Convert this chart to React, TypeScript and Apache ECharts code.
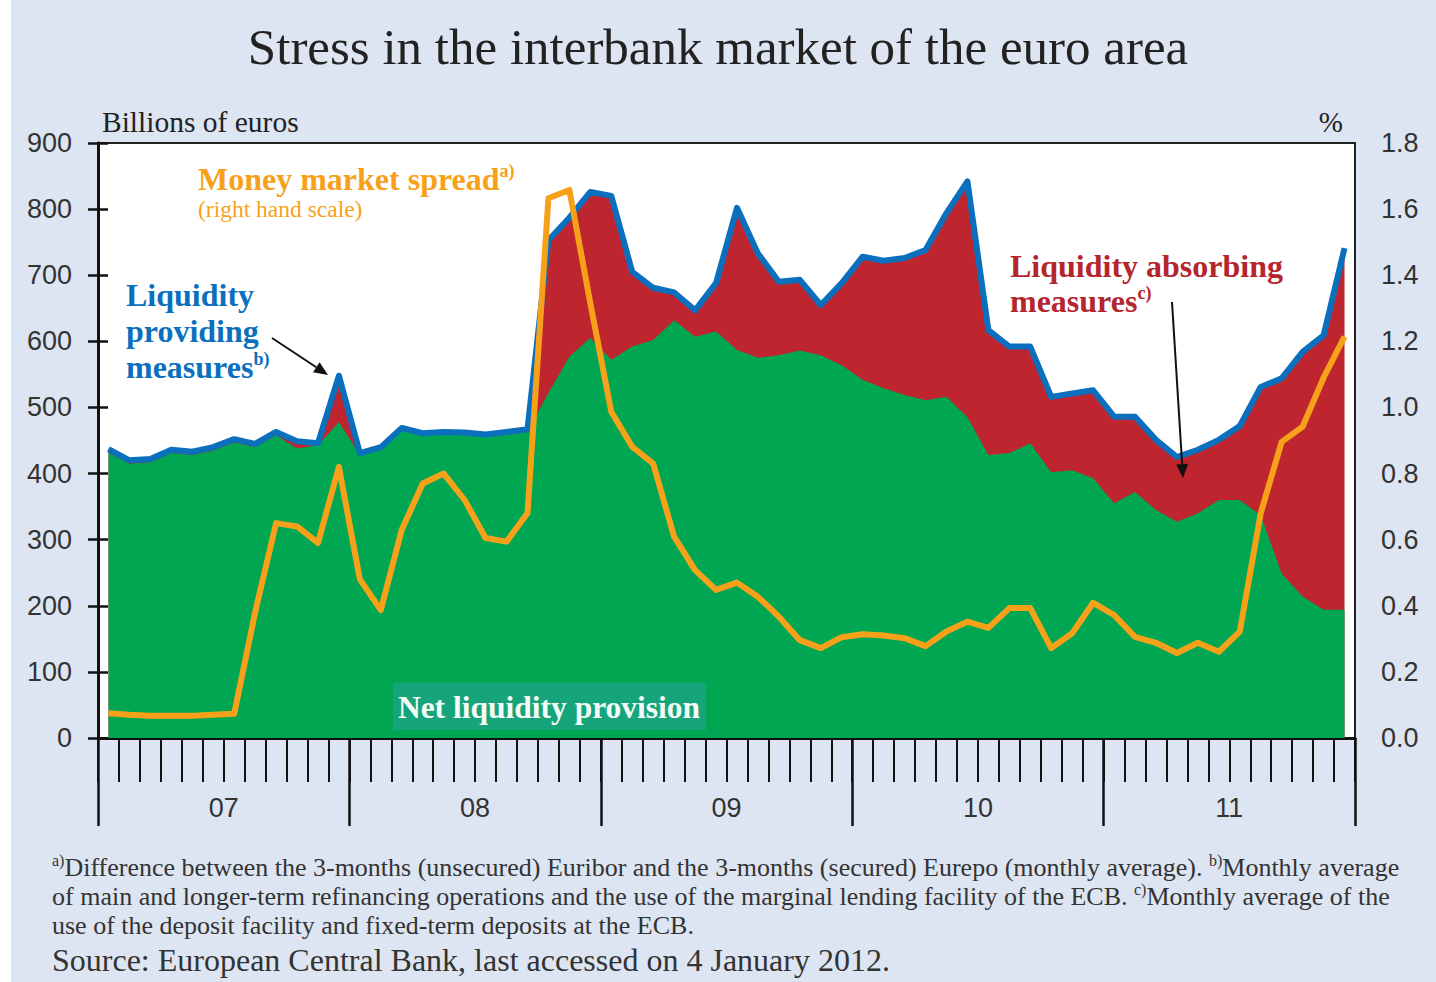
import React, { useEffect, useRef } from "react";
import * as echarts from "echarts";

// Months Jan 2007 .. Dec 2011 (60 monthly observations)
const years = ["07", "08", "09", "10", "11"];

// Liquidity providing measures (billions of euros) – blue line / top of red area
const providing = [
  437, 420, 422, 436, 433, 440, 452, 445, 463, 449, 446, 548,
  431, 440, 469, 461, 463, 462, 459, 463, 467, 753, 787, 826,
  820, 705, 681, 674, 647, 688, 802, 733, 690, 693, 655, 688,
  728, 722, 726, 738, 794, 842, 617, 592, 592, 516, 521, 526,
  486, 486, 451, 425, 436, 451, 472, 531, 544, 584, 609, 741,
];

// Net liquidity provision (billions of euros) – green area
const netProvision = [
  432, 415, 417, 431, 428, 435, 447, 440, 458, 438, 443, 478,
  428, 437, 466, 458, 460, 459, 456, 460, 464, 522, 577, 605,
  572, 592, 602, 632, 607, 615, 587, 575, 579, 586, 579, 564,
  542, 529, 519, 511, 516, 485, 428, 431, 446, 402, 405, 393,
  355, 372, 345, 327, 340, 360, 360, 337, 249, 214, 194, 194,
];

// Money market spread (%) – right hand scale
const spread = [
  0.075, 0.07, 0.067, 0.067, 0.067, 0.07, 0.073, 0.38, 0.65, 0.64, 0.59, 0.82,
  0.48, 0.387, 0.63, 0.77, 0.8, 0.72, 0.605, 0.594, 0.68, 1.633, 1.658, 1.315,
  0.987, 0.881, 0.83, 0.609, 0.508, 0.448, 0.47, 0.427, 0.367, 0.296, 0.272, 0.305,
  0.314, 0.31, 0.302, 0.278, 0.322, 0.352, 0.333, 0.393, 0.393, 0.272, 0.317, 0.409,
  0.372, 0.306, 0.288, 0.257, 0.288, 0.261, 0.322, 0.68, 0.896, 0.942, 1.09, 1.214,
];

const leftTicks = { min: 0, max: 900, interval: 100 };
const rightTicks = { min: 0, max: 1.8, interval: 0.2 };

const SERIF = '"Liberation Serif", "Times New Roman", serif';
const SANS = '"Liberation Sans", Arial, sans-serif';

const BG = "#dde5f2";
const GREEN = "#00a651";
const RED = "#bf252e";
const LABEL_RED = "#b5252d";
const BLUE = "#0a6fbd";
const ORANGE = "#f7a11a";
const TEAL = "#16a57a";

const toXY = (arr: number[]) => arr.map((v, i) => [i + 0.5, v]);

function arrow(x1: number, y1: number, x2: number, y2: number) {
  const dx = x2 - x1;
  const dy = y2 - y1;
  const len = Math.sqrt(dx * dx + dy * dy);
  const ux = dx / len;
  const uy = dy / len;
  const hl = 14;
  const hw = 6;
  const bx = x2 - ux * hl;
  const by = y2 - uy * hl;
  const nx = -uy;
  const ny = ux;
  return [
    {
      type: "line",
      shape: { x1, y1, x2: bx, y2: by },
      style: { stroke: "#111", lineWidth: 2 },
      z: 100,
    },
    {
      type: "polygon",
      shape: {
        points: [
          [x2, y2],
          [bx + nx * hw, by + ny * hw],
          [bx - nx * hw, by - ny * hw],
        ],
      },
      style: { fill: "#111" },
      z: 100,
    },
  ];
}

function supLabel(x: number, y: number, main: string, sup: string, color: string, size: number, supSize: number) {
  return {
    type: "text",
    x,
    y,
    z: 100,
    style: {
      text: `{m|${main}}{s|${sup}}`,
      rich: {
        m: { fontFamily: SERIF, fontSize: size, fontWeight: "bold", fill: color, lineHeight: size + 2 },
        s: { fontFamily: SERIF, fontSize: supSize, fontWeight: "bold", fill: color, verticalAlign: "top", lineHeight: size + 2 },
      },
    },
  };
}

function footLine(x: number, y: number, text: string) {
  return {
    type: "text",
    x,
    y,
    style: {
      text,
      rich: {
        t: { fontFamily: SERIF, fontSize: 26, fill: "#333", lineHeight: 30 },
        s: { fontFamily: SERIF, fontSize: 16, fill: "#333", verticalAlign: "top", lineHeight: 30 },
      },
    },
  };
}

export default function App() {
  const ref = useRef<HTMLDivElement>(null);

  useEffect(() => {
    if (!ref.current) return;
    const chart = echarts.init(ref.current, undefined, { renderer: "svg" });

    const axisLabelStyle = { fontFamily: SANS, fontSize: 27, color: "#333" };

    const option: any = {
      animation: false,
      backgroundColor: BG,
      grid: {
        left: 98,
        right: 81,
        top: 143,
        bottom: 244,
        show: true,
        backgroundColor: "#ffffff",
        borderColor: "#222",
        borderWidth: 2,
        containLabel: false,
      },
      xAxis: [
        {
          type: "value",
          min: 0,
          max: 60,
          interval: 1,
          position: "bottom",
          axisLine: { show: true, onZero: false, lineStyle: { color: "#111", width: 3 } },
          axisTick: { show: true, length: 44, lineStyle: { color: "#111", width: 2 } },
          axisLabel: { show: false },
          splitLine: { show: false },
        },
        {
          type: "value",
          min: 0,
          max: 60,
          interval: 12,
          position: "bottom",
          axisLine: { show: false },
          axisTick: { show: true, length: 88, lineStyle: { color: "#111", width: 2.5 } },
          axisLabel: { show: false },
          splitLine: { show: false },
        },
        {
          type: "category",
          data: years,
          boundaryGap: true,
          position: "bottom",
          axisLine: { show: false },
          axisTick: { show: false },
          axisLabel: { ...axisLabelStyle, margin: 56 },
          splitLine: { show: false },
        },
      ],
      yAxis: [
        {
          type: "value",
          ...leftTicks,
          position: "left",
          axisLine: { show: true, lineStyle: { color: "#111", width: 3 } },
          axisTick: { show: true, inside: true, length: 10, lineStyle: { color: "#111", width: 2.5 } },
          axisLabel: { ...axisLabelStyle, margin: 26 },
          splitLine: { show: false },
        },
        {
          type: "value",
          ...rightTicks,
          position: "right",
          axisLine: { show: true, lineStyle: { color: "#111", width: 3 } },
          axisTick: { show: true, inside: true, length: 10, lineStyle: { color: "#111", width: 2.5 } },
          axisLabel: {
            ...axisLabelStyle,
            margin: 26,
            formatter: (v: number) => v.toFixed(1),
          },
          splitLine: { show: false },
        },
      ],
      series: [
        {
          name: "Liquidity absorbing measures",
          type: "line",
          xAxisIndex: 0,
          yAxisIndex: 0,
          data: toXY(providing),
          symbol: "none",
          lineStyle: { width: 0 },
          areaStyle: { color: RED, opacity: 1 },
          z: 2,
        },
        {
          name: "Net liquidity provision",
          type: "line",
          xAxisIndex: 0,
          yAxisIndex: 0,
          data: toXY(netProvision),
          symbol: "none",
          lineStyle: { width: 0 },
          areaStyle: { color: GREEN, opacity: 1 },
          z: 3,
        },
        {
          name: "Liquidity providing measures",
          type: "line",
          xAxisIndex: 0,
          yAxisIndex: 0,
          data: toXY(providing),
          symbol: "none",
          lineStyle: { width: 6, color: BLUE, join: "round" },
          z: 4,
        },
        {
          name: "Money market spread",
          type: "line",
          xAxisIndex: 0,
          yAxisIndex: 1,
          data: toXY(spread),
          symbol: "none",
          lineStyle: { width: 6, color: ORANGE, join: "round" },
          z: 5,
        },
      ],
      graphic: [
        {
          type: "rect",
          shape: { x: 0, y: 0, width: 11, height: 982 },
          style: { fill: "#ffffff" },
          z: -1,
        },
        {
          type: "text",
          x: 718,
          y: 47,
          style: {
            text: "Stress in the interbank market of the euro area",
            font: `51px ${SERIF}`,
            fill: "#222",
            textAlign: "center",
            textVerticalAlign: "middle",
          },
        },
        {
          type: "text",
          x: 102,
          y: 122,
          style: {
            text: "Billions of euros",
            font: `29.5px ${SERIF}`,
            fill: "#222",
            textVerticalAlign: "middle",
          },
        },
        {
          type: "text",
          x: 1343,
          y: 122,
          style: {
            text: "%",
            font: `29px ${SERIF}`,
            fill: "#222",
            textAlign: "right",
            textVerticalAlign: "middle",
          },
        },
        // Money market spread label
        supLabel(198, 162, "Money market spread", "a)", ORANGE, 32, 18),
        {
          type: "text",
          x: 198,
          y: 209,
          z: 100,
          style: {
            text: "(right hand scale)",
            font: `23.5px ${SERIF}`,
            fill: ORANGE,
            textVerticalAlign: "middle",
          },
        },
        // Liquidity providing measures label
        {
          type: "text",
          x: 126,
          y: 295,
          z: 100,
          style: { text: "Liquidity", font: `bold 32px ${SERIF}`, fill: BLUE, textVerticalAlign: "middle" },
        },
        {
          type: "text",
          x: 126,
          y: 331,
          z: 100,
          style: { text: "providing", font: `bold 32px ${SERIF}`, fill: BLUE, textVerticalAlign: "middle" },
        },
        supLabel(126, 350, "measures", "b)", BLUE, 32, 18),
        ...arrow(272, 338, 328, 375),
        // Liquidity absorbing measures label
        {
          type: "text",
          x: 1010,
          y: 266,
          z: 100,
          style: { text: "Liquidity absorbing", font: `bold 32px ${SERIF}`, fill: LABEL_RED, textVerticalAlign: "middle" },
        },
        supLabel(1010, 284, "measures", "c)", LABEL_RED, 32, 18),
        ...arrow(1172, 302, 1183, 478),
        // Net liquidity provision label
        {
          type: "rect",
          shape: { x: 393, y: 683, width: 313, height: 47 },
          style: { fill: TEAL },
          z: 100,
        },
        {
          type: "text",
          x: 549,
          y: 707,
          z: 101,
          style: {
            text: "Net liquidity provision",
            font: `bold 31.5px ${SERIF}`,
            fill: "#f4fbf6",
            textAlign: "center",
            textVerticalAlign: "middle",
          },
        },
        // Footnotes
        footLine(
          52,
          852,
          "{s|a)}{t|Difference between the 3-months (unsecured) Euribor and the 3-months (secured) Eurepo (monthly average). }{s|b)}{t|Monthly average}"
        ),
        footLine(
          52,
          881,
          "{t|of main and longer-term refinancing operations and the use of the marginal lending facility of the ECB. }{s|c)}{t|Monthly average of the}"
        ),
        footLine(52, 910, "{t|use of the deposit facility and fixed-term deposits at the ECB.}"),
        {
          type: "text",
          x: 52,
          y: 960,
          style: {
            text: "Source: European Central Bank, last accessed on 4 January 2012.",
            font: `32px ${SERIF}`,
            fill: "#333",
            textVerticalAlign: "middle",
          },
        },
      ],
    };

    chart.setOption(option);
    return () => chart.dispose();
  }, []);

  return (
    <div
      ref={ref}
      style={{ position: "fixed", left: 0, top: 0, width: 1436, height: 982 }}
    />
  );
}
